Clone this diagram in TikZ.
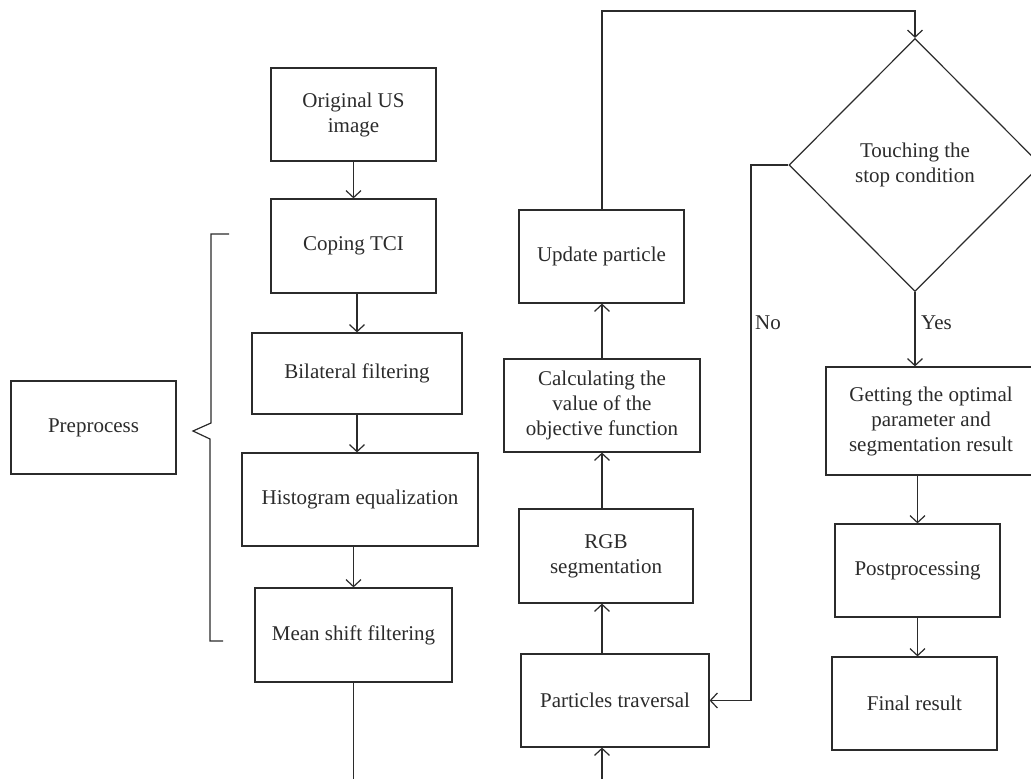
\documentclass[tikz,border=0pt]{standalone}
\usepackage{fontspec}
\setmainfont{Liberation Serif}
\usetikzlibrary{arrows.meta,shapes.geometric}
\definecolor{ln}{HTML}{2B2B2B}
\begin{document}
\begin{tikzpicture}[x=1pt,y=-1pt,
  txt/.style={font=\fontsize{21}{25}\selectfont, text=ln},
  bx/.style 2 args={txt, draw=ln, line width=1.2pt, minimum width=#1pt, minimum height=#2pt, inner sep=0pt, align=center},
  dm/.style={txt, draw=ln, line width=1.2pt, diamond, minimum width=252pt, minimum height=253pt, inner sep=0pt, align=center},
  conn/.style={draw=ln, line width=1.2pt},
  arr/.style={conn, -{Straight Barb[length=7pt,width=15pt]}},
  lbl/.style={txt, inner sep=0pt, anchor=west}]
\useasboundingbox (0,0) rectangle (1031,779);
\clip (0,0) rectangle (1031,779);

% left column
\node[bx={165}{93}] (orig) at (353.5,114.5) {Original US\\image};
\node[bx={165}{94}] (coping) at (353.5,246) {Coping TCI};
\node[bx={210}{81}] (bil) at (357,373.5) {Bilateral filtering};
\node[bx={236}{93}] (hist) at (360,499.5) {Histogram equalization};
\node[bx={197}{94}] (mean) at (353.5,635) {Mean shift filtering};
\node[bx={165}{93}] (pre) at (93.5,427.5) {Preprocess};

% middle column
\node[bx={165}{93}] (upd) at (601.5,256.5) {Update particle};
\node[bx={196}{93}] (calc) at (602,405.5) {Calculating the\\value of the\\objective function};
\node[bx={174}{94}] (rgb) at (606,556) {RGB\\segmentation};
\node[bx={188}{93}] (parts) at (615,700.5) {Particles traversal};

% right column
\node[dm] (dia) at (915,165) {Touching the\\stop condition};
\node[bx={210}{108}] (get) at (931,421) {Getting the optimal\\parameter and\\segmentation result};
\node[bx={165}{93}] (post) at (917.5,570.5) {Postprocessing};
\node[bx={165}{93}] (final) at (914.5,703.5) {Final result};

\node[lbl] (no) at (755,323) {No};
\node[lbl] (yes) at (921,323) {Yes};

% helper coordinates
\coordinate (cx) at (602,0);
\coordinate (topy) at (0,11);
\coordinate (noX) at (751,0);
\coordinate (bot) at (0,790);

% brace
\coordinate (b1) at (229,234);
\coordinate (b2) at (211,234);
\coordinate (b3) at (211,423);
\coordinate (b4) at (193,431);
\coordinate (b5) at (210,439);
\coordinate (b6) at (210,641);
\coordinate (b7) at (223,641);
\draw[conn] (b1) -- (b2) -- (b3) -- (b4) -- (b5) -- (b6) -- (b7);

% left column arrows
\draw[arr] (orig.south) -- (coping.north);
\draw[arr] (bil.north |- coping.south) -- (bil.north);
\draw[arr] (bil.south) -- (bil.south |- hist.north);
\draw[arr] (mean.north |- hist.south) -- (mean.north);
\draw[conn] (mean.south) -- (mean.south |- bot);

% middle column arrows
\draw[arr] (cx |- bot) -- (cx |- parts.south);
\draw[arr] (cx |- parts.north) -- (cx |- rgb.south);
\draw[arr] (cx |- rgb.north) -- (cx |- calc.south);
\draw[arr] (cx |- calc.north) -- (cx |- upd.south);
\draw[arr] (cx |- upd.north) -- (cx |- topy) -| (dia.north);

% decision
\draw[arr] (dia.west) -- (noX |- dia.west) -- (noX |- parts.east) -- (parts.east);
\draw[arr] (dia.south) -- (dia.south |- get.north);
\draw[arr] (post.north |- get.south) -- (post.north);
\draw[arr] (post.south) -- (post.south |- final.north);
\end{tikzpicture}
\end{document}
